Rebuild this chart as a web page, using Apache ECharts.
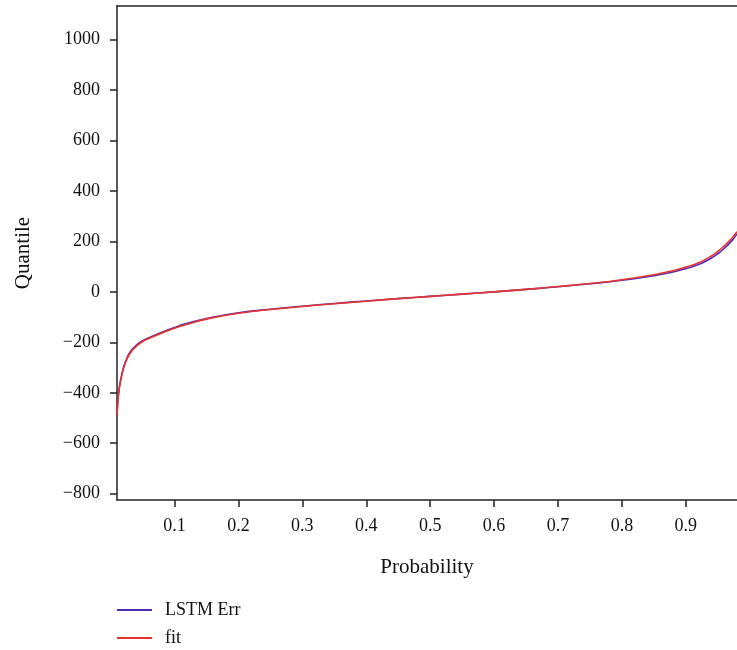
<!DOCTYPE html>
<html>
<head>
<meta charset="utf-8">
<script src="https://cdn.jsdelivr.net/npm/echarts@6/dist/echarts.min.js"></script>
<style>
html,body{margin:0;padding:0;background:#fff;}
#chart{width:737px;height:650px;}
</style>
</head>
<body>
<div id="chart"></div>
<script>
// Data
var probability = [0.01, 0.0115, 0.013, 0.015, 0.02, 0.025, 0.03, 0.04, 0.05, 0.06, 0.08, 0.10, 0.12, 0.15, 0.20, 0.25, 0.30, 0.35, 0.40, 0.45, 0.50, 0.55, 0.60, 0.65, 0.70, 0.75, 0.80, 0.85, 0.88, 0.90, 0.92, 0.94, 0.95, 0.96, 0.97, 0.975, 0.98];
var lstmErr = [-488, -428, -392, -358, -302, -266, -240, -212, -194, -182, -160, -141, -125, -106, -83, -69, -57, -46, -36, -27, -18, -9, 0, 10, 20, 32, 46, 64, 79, 92, 108, 134, 151, 172, 197, 212, 230];
var fit = [-490, -430, -395, -362, -305, -270, -245, -216, -197, -185, -163, -144, -128, -108, -85, -70, -58, -47, -37, -27, -18, -9, 0, 10, 21, 33, 48, 68, 84, 98, 115, 142, 160, 182, 207, 222, 238];
var xTicks = [0.1, 0.2, 0.3, 0.4, 0.5, 0.6, 0.7, 0.8, 0.9];
var yTicks = [-800, -600, -400, -200, 0, 200, 400, 600, 800, 1000];
var seriesNames = ['LSTM Err', 'fit'];

function pairs(xs, ys) {
  return xs.map(function (x, i) { return [x, ys[i]]; });
}

var font = 'Liberation Serif';
var axisColor = '#222';

var chart = echarts.init(document.getElementById('chart'), null, {renderer: 'canvas'});
chart.setOption({
  animation: false,
  backgroundColor: '#fff',
  grid: {left: 117, right: 0, top: 6, bottom: 150, containLabel: false},
  legend: {
    orient: 'vertical',
    left: 117,
    top: 601,
    height: 49,
    padding: 0,
    icon: 'rect',
    itemWidth: 35,
    itemHeight: 2,
    itemGap: 10,
    data: seriesNames,
    textStyle: {fontFamily: font, fontSize: 18, color: '#111', padding: [0, 0, 0, 8]}
  },
  xAxis: [{
    type: 'value',
    min: 0.01,
    max: 0.98,
    name: 'Probability',
    nameLocation: 'middle',
    nameGap: 57,
    nameTextStyle: {fontFamily: font, fontSize: 21, color: '#111'},
    axisLine: {show: true, onZero: false, lineStyle: {color: axisColor, width: 1.5}},
    axisTick: {show: true, length: 7, inside: false, customValues: xTicks, lineStyle: {color: axisColor, width: 1.5}},
    axisLabel: {customValues: xTicks, margin: 17, fontFamily: font, fontSize: 18, color: '#111',
      formatter: function (v) { return v.toFixed(1); }},
    splitLine: {show: false}
  }, {
    type: 'value',
    position: 'top',
    min: 0.01,
    max: 0.98,
    axisLine: {show: true, onZero: false, lineStyle: {color: axisColor, width: 1.5}},
    axisTick: {show: false},
    axisLabel: {show: false},
    splitLine: {show: false}
  }],
  yAxis: {
    type: 'value',
    min: -825,
    max: 1133,
    name: 'Quantile',
    nameLocation: 'middle',
    nameGap: 83,
    nameTextStyle: {fontFamily: font, fontSize: 21, color: '#111'},
    axisLine: {show: true, onZero: false, lineStyle: {color: axisColor, width: 1.5}},
    axisTick: {show: true, length: 7, inside: false, customValues: yTicks, lineStyle: {color: axisColor, width: 1.5}},
    axisLabel: {customValues: yTicks, margin: 17, fontFamily: font, fontSize: 18, color: '#111',
      formatter: function (v) { return v < 0 ? '\u2212' + Math.abs(v) : String(v); }},
    splitLine: {show: false}
  },
  series: [{
    name: seriesNames[0],
    type: 'line',
    data: pairs(probability, lstmErr),
    smooth: true,
    symbol: 'none',
    color: '#4f2db8',
    lineStyle: {width: 1.6, color: '#4f2db8'}
  }, {
    name: seriesNames[1],
    type: 'line',
    data: pairs(probability, fit),
    smooth: true,
    symbol: 'none',
    color: '#e8322e',
    lineStyle: {width: 1.6, color: '#e8322e'}
  }]
});
</script>
</body>
</html>
